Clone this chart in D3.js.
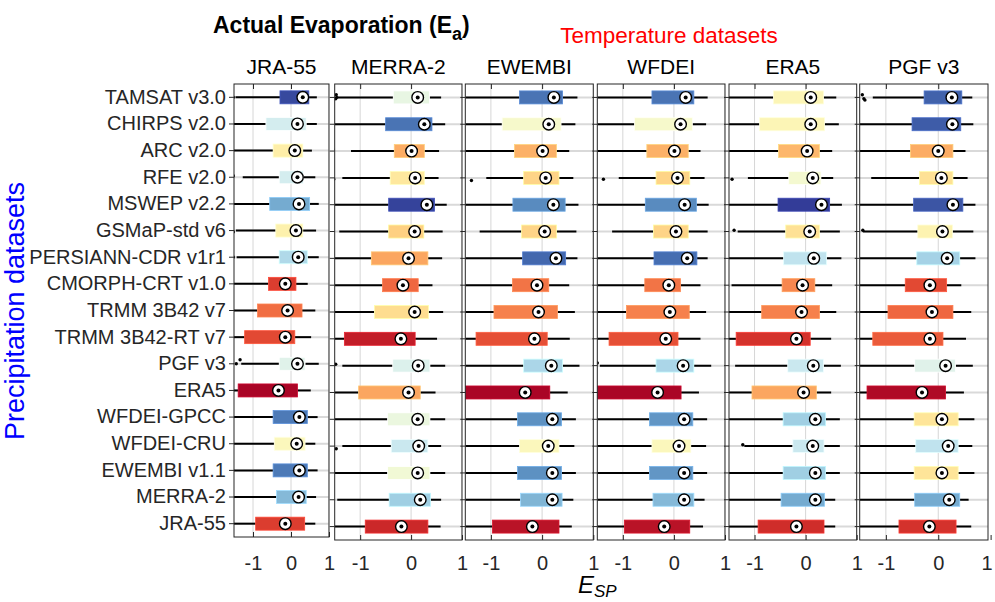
<!DOCTYPE html>
<html>
<head>
<meta charset="utf-8">
<script src="https://cdnjs.cloudflare.com/ajax/libs/d3/7.8.5/d3.min.js"></script>
<style>
  body { margin: 0; background: #fff; }
  text { font-family: "Liberation Sans", Arial, sans-serif; }
</style>
</head>
<body>
<svg id="chart" width="995" height="602"></svg>
<script>
// temperature datasets (one panel each) and precipitation datasets (rows)
const tempSets = ["JRA-55", "MERRA-2", "EWEMBI", "WFDEI", "ERA5", "PGF v3"];
const precipSets = ["TAMSAT v3.0", "CHIRPS v2.0", "ARC v2.0", "RFE v2.0", "MSWEP v2.2",
  "GSMaP-std v6", "PERSIANN-CDR v1r1", "CMORPH-CRT v1.0", "TRMM 3B42 v7", "TRMM 3B42-RT v7",
  "PGF v3", "ERA5", "WFDEI-GPCC", "WFDEI-CRU", "EWEMBI v1.1", "MERRA-2", "JRA-55"];
const xTicks = [-1, 0, 1];

// box stats per row: [lower whisker, q1, median, q3, upper whisker]
const statsJRA55 = [
  [-1.46, -0.29, 0.31, 0.47, 0.68], [-1.5, -0.66, 0.17, 0.40, 0.68], [-1.5, -0.47, 0.10, 0.31, 0.55],
  [-1.27, -0.31, 0.17, 0.33, 0.64], [-1.5, -0.56, 0.21, 0.49, 0.73], [-1.45, -0.40, 0.13, 0.31, 0.66],
  [-1.43, -0.31, 0.19, 0.43, 0.73], [-1.5, -0.59, -0.15, 0.13, 0.44], [-1.5, -0.88, -0.09, 0.29, 0.64],
  [-1.5, -1.22, -0.15, 0.10, 0.53], [-1.31, -0.31, 0.17, 0.37, 0.73], [-1.5, -1.39, -0.33, 0.17, 0.52],
  [-1.5, -0.47, 0.22, 0.43, 0.70], [-1.5, -0.44, 0.15, 0.37, 0.64], [-1.5, -0.47, 0.22, 0.43, 0.70],
  [-1.5, -0.38, 0.20, 0.40, 0.66], [-1.5, -0.93, -0.15, 0.36, 0.64]];
const statsMERRA2 = [
  [-1.44, -0.35, 0.13, 0.36, 0.59], [-1.5, -0.50, 0.26, 0.41, 0.67], [-1.18, -0.33, 0.01, 0.26, 0.55],
  [-1.35, -0.41, 0.08, 0.26, 0.54], [-1.5, -0.44, 0.31, 0.46, 0.70], [-1.41, -0.44, 0.07, 0.25, 0.62],
  [-1.5, -0.78, -0.05, 0.33, 0.61], [-1.5, -0.56, -0.16, 0.14, 0.42], [-1.5, -0.72, 0.07, 0.34, 0.63],
  [-1.5, -1.31, -0.20, 0.08, 0.51], [-1.35, -0.36, 0.14, 0.37, 0.67], [-1.5, -1.03, -0.05, 0.18, 0.48],
  [-1.5, -0.46, 0.13, 0.37, 0.67], [-1.35, -0.39, 0.15, 0.33, 0.59], [-1.5, -0.46, 0.13, 0.37, 0.67],
  [-1.45, -0.43, 0.18, 0.38, 0.59], [-1.5, -0.90, -0.19, 0.33, 0.58]];
const statsEWEMBI = [
  [-1.5, -0.44, 0.23, 0.40, 0.69], [-1.5, -0.78, 0.13, 0.37, 0.65], [-1.5, -0.54, 0.01, 0.28, 0.53],
  [-1.09, -0.36, 0.07, 0.33, 0.61], [-1.5, -0.57, 0.22, 0.45, 0.71], [-1.22, -0.40, 0.05, 0.28, 0.67],
  [-1.5, -0.38, 0.27, 0.46, 0.69], [-1.5, -0.58, -0.10, 0.13, 0.53], [-1.5, -0.94, -0.07, 0.30, 0.64],
  [-1.5, -1.29, -0.15, 0.10, 0.54], [-1.5, -0.36, 0.18, 0.40, 0.73], [-1.5, -1.5, -0.33, 0.15, 0.50],
  [-1.5, -0.48, 0.20, 0.38, 0.66], [-1.5, -0.44, 0.12, 0.33, 0.63], [-1.5, -0.48, 0.20, 0.38, 0.66],
  [-1.5, -0.42, 0.20, 0.39, 0.61], [-1.5, -0.97, -0.19, 0.33, 0.58]];
const statsWFDEI = [
  [-1.5, -0.43, 0.23, 0.39, 0.66], [-1.5, -0.77, 0.13, 0.36, 0.63], [-1.5, -0.53, 0.01, 0.28, 0.52],
  [-1.08, -0.35, 0.07, 0.31, 0.60], [-1.5, -0.56, 0.21, 0.44, 0.68], [-1.21, -0.40, 0.04, 0.28, 0.66],
  [-1.5, -0.39, 0.26, 0.45, 0.66], [-1.5, -0.57, -0.10, 0.13, 0.52], [-1.5, -0.93, -0.08, 0.30, 0.63],
  [-1.5, -1.27, -0.16, 0.08, 0.52], [-1.45, -0.35, 0.18, 0.39, 0.73], [-1.5, -1.5, -0.32, 0.14, 0.49],
  [-1.5, -0.48, 0.20, 0.37, 0.65], [-1.5, -0.43, 0.10, 0.33, 0.63], [-1.5, -0.48, 0.20, 0.37, 0.65],
  [-1.5, -0.41, 0.20, 0.39, 0.60], [-1.5, -0.97, -0.19, 0.31, 0.57]];
const statsERA5 = [
  [-1.5, -0.63, 0.10, 0.35, 0.60], [-1.5, -0.90, 0.10, 0.37, 0.65], [-1.5, -0.53, 0.03, 0.27, 0.52],
  [-1.13, -0.33, 0.14, 0.30, 0.54], [-1.5, -0.54, 0.31, 0.47, 0.71], [-1.33, -0.39, 0.08, 0.27, 0.67],
  [-1.5, -0.43, 0.16, 0.41, 0.70], [-1.45, -0.46, -0.06, 0.18, 0.52], [-1.5, -0.86, -0.08, 0.27, 0.60],
  [-1.5, -1.36, -0.18, 0.09, 0.50], [-1.38, -0.35, 0.15, 0.35, 0.69], [-1.5, -1.05, -0.04, 0.21, 0.50],
  [-1.5, -0.44, 0.19, 0.39, 0.67], [-1.20, -0.25, 0.14, 0.36, 0.67], [-1.5, -0.44, 0.19, 0.39, 0.67],
  [-1.5, -0.48, 0.19, 0.37, 0.58], [-1.5, -0.93, -0.18, 0.36, 0.58]];
const statsPGF = [
  [-1.25, -0.27, 0.26, 0.45, 0.65], [-1.5, -0.50, 0.27, 0.43, 0.67], [-1.5, -0.53, 0.00, 0.28, 0.52],
  [-1.28, -0.36, 0.06, 0.28, 0.56], [-1.5, -0.47, 0.28, 0.47, 0.71], [-1.44, -0.39, 0.08, 0.27, 0.67],
  [-1.5, -0.41, 0.17, 0.41, 0.71], [-1.5, -0.63, -0.16, 0.16, 0.44], [-1.5, -0.96, -0.12, 0.28, 0.63],
  [-1.5, -1.25, -0.16, 0.09, 0.53], [-1.5, -0.45, 0.14, 0.33, 0.66], [-1.5, -1.36, -0.31, 0.14, 0.49],
  [-1.5, -0.46, 0.07, 0.38, 0.69], [-1.5, -0.43, 0.19, 0.38, 0.65], [-1.5, -0.46, 0.07, 0.38, 0.69],
  [-1.5, -0.45, 0.21, 0.41, 0.58], [-1.5, -0.75, -0.17, 0.34, 0.63]];

// outliers: [row index, value, vertical jitter in row units]
const outJRA55 = [[0, -1.52, 0], [3, -1.52, -0.05], [5, -1.52, 0.05], [6, -1.52, 0], [10, -1.44, 0], [10, -1.34, -0.15]];
const outMERRA2 = [[0, -1.47, -0.1], [0, -1.46, 0], [0, -1.48, 0.05], [2, -1.53, -0.05], [3, -1.52, 0.05], [10, -1.48, -0.05], [13, -1.47, 0.1]];
const outEWEMBI = [[3, -1.38, 0.1]];
const outWFDEI = [[3, -1.38, 0.05], [10, -1.5, -0.1]];
const outERA5 = [[3, -1.54, 0.05], [3, -1.44, 0.05], [5, -1.54, 0.1], [5, -1.40, -0.05], [7, -1.53, 0.05], [13, -1.23, -0.05]];
const outPGF = [[0, -1.45, -0.1], [0, -1.42, 0.05], [0, -1.40, 0.1], [5, -1.44, -0.05]];

// colour value (0 = red end, 1 = blue end of RdYlBu) per box
const toneJRA55 = [0.97, 0.62, 0.45, 0.62, 0.80, 0.46, 0.69, 0.12, 0.20, 0.14, 0.59, 0.01, 0.89, 0.49, 0.89, 0.77, 0.12];
const toneMERRA2 = [0.57, 0.90, 0.30, 0.43, 0.98, 0.37, 0.29, 0.19, 0.40, 0.06, 0.60, 0.29, 0.56, 0.64, 0.54, 0.72, 0.08];
const toneEWEMBI = [0.90, 0.52, 0.31, 0.38, 0.86, 0.38, 0.92, 0.21, 0.23, 0.15, 0.70, 0.01, 0.85, 0.49, 0.85, 0.78, 0.04];
const toneWFDEI = [0.90, 0.52, 0.31, 0.38, 0.86, 0.38, 0.91, 0.21, 0.23, 0.15, 0.70, 0.01, 0.84, 0.49, 0.84, 0.77, 0.04];
const toneERA5 = [0.48, 0.48, 0.32, 0.53, 0.99, 0.41, 0.66, 0.24, 0.23, 0.10, 0.64, 0.29, 0.72, 0.64, 0.72, 0.80, 0.09];
const tonePGF = [0.93, 0.94, 0.30, 0.41, 0.95, 0.47, 0.71, 0.14, 0.19, 0.17, 0.59, 0.02, 0.42, 0.66, 0.42, 0.80, 0.10];

const allStats = [statsJRA55, statsMERRA2, statsEWEMBI, statsWFDEI, statsERA5, statsPGF];
const allOut = [outJRA55, outMERRA2, outEWEMBI, outWFDEI, outERA5, outPGF];
const allTone = [toneJRA55, toneMERRA2, toneEWEMBI, toneWFDEI, toneERA5, tonePGF];

const svg = d3.select("#chart");
const color = d3.scaleSequential(d3.interpolateRdYlBu).domain([0, 1]);
const font = "'Liberation Sans', Arial, sans-serif";

// panel frames
const lefts = [234, 334.7, 465.3, 597.3, 729, 859.7];
const rights = [329, 462, 593.3, 725, 856.7, 988];
const bottoms = [537, 540, 540, 540, 540, 540];
const plotTop = 84;
const tickLabelTop = 556;

tempSets.forEach((name, p) => {
  const xMax = p === 5 ? 0.95 : 1;
  const x = d3.scaleLinear().domain([-1.5, xMax]).range([lefts[p], rights[p]]);
  const y = d3.scaleBand().domain(precipSets).range([plotTop, bottoms[p]]);
  const yc = i => y(precipSets[i]) + y.bandwidth() / 2;
  const g = svg.append("g");

  g.append("clipPath").attr("id", "clip" + p)
    .append("rect").attr("x", lefts[p]).attr("y", plotTop)
    .attr("width", rights[p] - lefts[p]).attr("height", bottoms[p] - plotTop);
  const inner = g.append("g").attr("clip-path", `url(#clip${p})`);

  // grid
  inner.selectAll(".vgrid").data(xTicks.filter(t => t <= xMax)).join("line")
    .attr("x1", d => x(d)).attr("x2", d => x(d))
    .attr("y1", plotTop).attr("y2", bottoms[p])
    .attr("stroke", "#d6d6d6").attr("stroke-width", 1);
  inner.selectAll(".hgrid").data(precipSets).join("line")
    .attr("x1", lefts[p]).attr("x2", rights[p])
    .attr("y1", (d, i) => yc(i)).attr("y2", (d, i) => yc(i))
    .attr("stroke", "#d9d9d9").attr("stroke-width", 2);

  const stats = allStats[p];
  // whiskers
  inner.selectAll(".wl").data(stats).join("line")
    .attr("x1", d => x(d[0])).attr("x2", d => x(d[1]))
    .attr("y1", (d, i) => yc(i)).attr("y2", (d, i) => yc(i))
    .attr("stroke", "#000").attr("stroke-width", 2);
  inner.selectAll(".wr").data(stats).join("line")
    .attr("x1", d => x(d[3])).attr("x2", d => x(d[4]))
    .attr("y1", (d, i) => yc(i)).attr("y2", (d, i) => yc(i))
    .attr("stroke", "#000").attr("stroke-width", 2);
  // boxes
  inner.selectAll(".box").data(stats).join("rect")
    .attr("x", d => x(d[1])).attr("width", d => x(d[3]) - x(d[1]))
    .attr("y", (d, i) => yc(i) - 6.5).attr("height", 13)
    .attr("fill", (d, i) => color(allTone[p][i]))
    .attr("stroke", (d, i) => d3.color(color(allTone[p][i])).brighter(0.5))
    .attr("stroke-width", 0.8);
  // medians
  inner.selectAll(".med").data(stats).join("circle")
    .attr("cx", d => x(d[2])).attr("cy", (d, i) => yc(i)).attr("r", 5.8)
    .attr("fill", "#fff").attr("stroke", "#000").attr("stroke-width", 1.4);
  inner.selectAll(".medDot").data(stats).join("circle")
    .attr("cx", d => x(d[2])).attr("cy", (d, i) => yc(i)).attr("r", 2)
    .attr("fill", "#000");
  // outliers
  inner.selectAll(".out").data(allOut[p]).join("circle")
    .attr("cx", d => x(d[1])).attr("cy", d => yc(d[0]) + d[2] * y.bandwidth())
    .attr("r", 1.7).attr("fill", "#000");

  // frame
  g.append("rect").attr("x", lefts[p]).attr("y", plotTop)
    .attr("width", rights[p] - lefts[p]).attr("height", bottoms[p] - plotTop)
    .attr("fill", "none").attr("stroke", "#262626").attr("stroke-width", 1);

  // x axes (ticks inward)
  const bAxis = g.append("g").attr("transform", `translate(0,${bottoms[p]})`)
    .call(d3.axisBottom(x).tickValues(xTicks).tickSize(-5)
      .tickPadding(tickLabelTop - bottoms[p]).tickFormat(d => String(d)));
  bAxis.select(".domain").remove();
  bAxis.selectAll("line").attr("stroke", "#262626");
  bAxis.selectAll("text").attr("font-size", 20).attr("fill", "#262626").attr("font-family", font)
    .attr("dx", d => (x(d) > 985 ? -4 : 0));
  const tAxis = g.append("g").attr("transform", `translate(0,${plotTop})`)
    .call(d3.axisTop(x).tickValues(xTicks.filter(t => t < xMax)).tickSize(-5).tickFormat(""));
  tAxis.select(".domain").remove();
  tAxis.selectAll("line").attr("stroke", "#262626");

  // y axis ticks
  const lAxis = g.append("g").attr("transform", `translate(${lefts[p]},0)`)
    .call(d3.axisLeft(y).tickSize(5).tickPadding(3));
  lAxis.select(".domain").remove();
  lAxis.selectAll("line").attr("stroke", "#262626");
  if (p === 0) {
    lAxis.selectAll("text").attr("font-size", 20).attr("fill", "#262626").attr("font-family", font);
  } else {
    lAxis.selectAll("text").remove();
  }

  // panel title
  g.append("text").attr("x", (lefts[p] + rights[p]) / 2).attr("y", 74)
    .attr("text-anchor", "middle").attr("font-size", 21).attr("fill", "#000")
    .text(name);
});

// titles
const title = svg.append("text").attr("x", 213).attr("y", 33)
  .attr("font-size", 23).attr("font-weight", "bold");
title.append("tspan").text("Actual Evaporation (E");
title.append("tspan").attr("font-size", 18).attr("dy", 7).text("a");
title.append("tspan").attr("dy", -7).text(")");

svg.append("text").attr("x", 669).attr("y", 43)
  .attr("text-anchor", "middle").attr("font-size", 22.5).attr("fill", "#ff0000")
  .text("Temperature datasets");

svg.append("text").attr("transform", "translate(24,311) rotate(-90)")
  .attr("text-anchor", "middle").attr("font-size", 27).attr("fill", "#0000ff")
  .text("Precipitation datasets");

const xl = svg.append("text").attr("x", 578).attr("y", 593)
  .attr("font-family", "'Liberation Serif', 'DejaVu Serif', serif")
  .attr("font-style", "italic").attr("font-size", 24).text("E");
xl.append("tspan").attr("font-size", 17).attr("dy", 4).text("SP");
</script>
</body>
</html>
